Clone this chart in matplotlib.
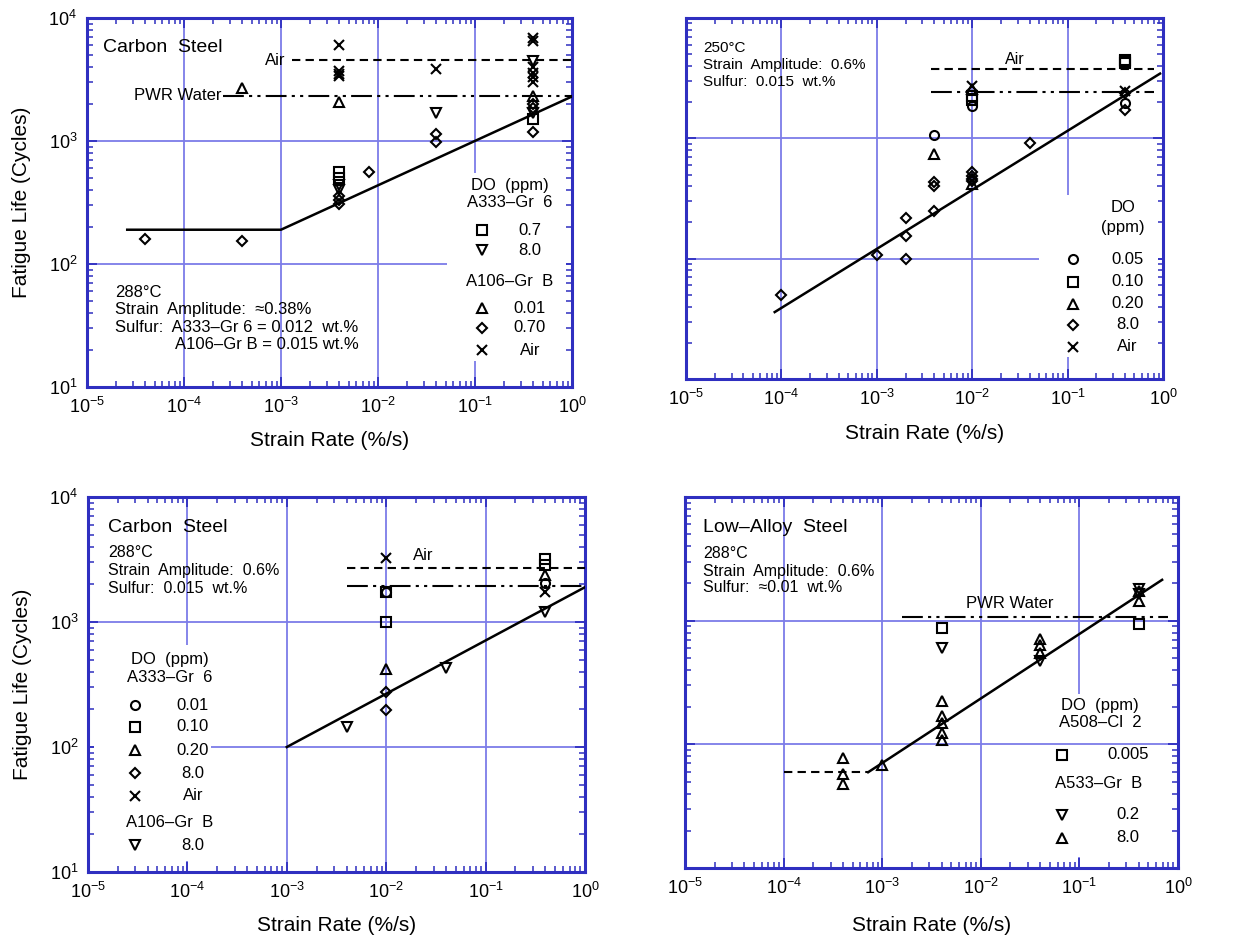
import matplotlib
matplotlib.use("Agg")
import matplotlib.pyplot as plt
from matplotlib.patches import Rectangle
from matplotlib.ticker import LogLocator, NullFormatter

plt.rcParams['font.family'] = ['Liberation Sans', 'DejaVu Sans']
plt.rcParams['mathtext.fontset'] = 'custom'
plt.rcParams['mathtext.rm'] = 'Liberation Sans'
plt.rcParams['mathtext.it'] = 'Liberation Sans'
plt.rcParams['mathtext.default'] = 'regular'

BLUE = '#2f2fc0'
GRID = '#7c7ce8'

# ---------------- panel 1: carbon steel, 288C, ~0.38% ----------------
p1_sq_x = [4e-3, 4e-3, 0.4]
p1_sq_y = [560, 500, 1500]
p1_dt_x = [4e-3, 4e-3, 4e-2, 0.4, 0.4]
p1_dt_y = [440, 400, 1690, 4500, 1700]
p1_tri_x = [4e-4, 4e-3, 0.4]
p1_tri_y = [2700, 2080, 2300]
p1_dia_x = [4e-5, 4e-4, 4e-3, 4e-3, 4e-3, 8e-3, 4e-2, 4e-2, 0.4, 0.4, 0.4]
p1_dia_y = [160, 155, 360, 330, 310, 560, 1150, 990, 2000, 1850, 1180]
p1_air_x = [4e-3, 4e-3, 4e-3, 4e-3, 4e-2, 0.4, 0.4, 0.4, 0.4, 0.4, 0.4]
p1_air_y = [6000, 3700, 3500, 3400, 3850, 6900, 6500, 4000, 3600, 3300, 3000]
p1_fit_x = [2.6e-5, 1e-3, 1.0]
p1_fit_y = [190, 190, 2300]
p1_airline_x = [1.3e-3, 1.0]
p1_airline_y = [4550, 4550]
p1_pwr_x = [2.5e-4, 1.0]
p1_pwr_y = [2320, 2320]

# ---------------- panel 2: 250C, 0.6% ----------------
p2_circ_x = [4e-3, 1e-2, 0.4]
p2_circ_y = [1060, 1860, 1970]
p2_sq_x = [1e-2, 1e-2, 0.4, 0.4, 0.4]
p2_sq_y = [2250, 2090, 4250, 4360, 4480]
p2_tri_x = [4e-3, 1e-2, 1e-2]
p2_tri_y = [735, 2570, 420]
p2_dia_x = [1e-4, 1e-3, 2e-3, 2e-3, 2e-3, 4e-3, 4e-3, 4e-3, 1e-2, 1e-2, 1e-2, 1e-2, 4e-2, 0.4, 0.4]
p2_dia_y = [50, 108, 217, 153, 100, 430, 400, 248, 530, 490, 460, 440, 908, 2400, 1720]
p2_air_x = [1e-2, 0.4]
p2_air_y = [2730, 2480]
p2_fit_x = [8.5e-5, 0.93]
p2_fit_y = [36, 3450]
p2_airline_x = [3.7e-3, 0.8]
p2_airline_y = [3800, 3800]
p2_pwr_x = [3.7e-3, 0.8]
p2_pwr_y = [2440, 2440]

# ---------------- panel 3: carbon steel, 288C, 0.6% ----------------
p3_circ_x = [1e-2, 0.4]
p3_circ_y = [1750, 2070]
p3_sq_x = [1e-2, 1e-2, 0.4, 0.4]
p3_sq_y = [1750, 1000, 3220, 2880]
p3_tri_x = [1e-2, 0.4]
p3_tri_y = [418, 2390]
p3_dia_x = [1e-2, 1e-2]
p3_dia_y = [278, 199]
p3_air_x = [1e-2, 0.4]
p3_air_y = [3280, 1750]
p3_dt_x = [4e-3, 4e-2, 0.4]
p3_dt_y = [145, 425, 1205]
p3_fit_x = [1e-3, 1.0]
p3_fit_y = [100, 1900]
p3_airline_x = [4e-3, 1.0]
p3_airline_y = [2720, 2720]
p3_pwr_x = [4e-3, 1.0]
p3_pwr_y = [1950, 1950]

# ---------------- panel 4: low-alloy steel, 288C, 0.6% ----------------
p4_sq_x = [4e-3, 0.4]
p4_sq_y = [880, 945]
p4_dt_x = [4e-3, 4e-2, 0.4, 0.4]
p4_dt_y = [605, 476, 1810, 1650]
p4_tri_x = [4e-4, 4e-4, 4e-4, 1e-3, 4e-3, 4e-3, 4e-3, 4e-3, 4e-3, 4e-2, 4e-2, 4e-2, 0.4, 0.4]
p4_tri_y = [78, 58, 48, 68, 226, 168, 148, 123, 108, 716, 630, 552, 1750, 1440]
p4_dash_x = [1e-4, 7.2e-4]
p4_dash_y = [59.5, 59.5]
p4_fit_x = [7.2e-4, 0.69]
p4_fit_y = [59.5, 2140]
p4_pwr_x = [1.6e-3, 0.8]
p4_pwr_y = [1077, 1077]

MK = dict(ls='none', mfc='none', mec='black', mew=1.5, zorder=4)
SIZES = {'o': 6.5, 's': 6.5, '^': 6.5, 'v': 6.5, 'D': 5, 'x': 6.5}
AIR_DASH = (4, 2.5)
PWR_DASH = (10, 2.5, 1.5, 2.5, 1.5, 2.5)


def pts(ax, x, y, m):
    ax.plot(x, y, marker=m, ms=SIZES[m], **MK)


def leg_marker(ax, x, y, m):
    ax.plot([x], [y], marker=m, ms=SIZES[m], transform=ax.transAxes, clip_on=False, **MK)


def setup(ax, ylab=True):
    ax.set_xscale('log')
    ax.set_yscale('log')
    ax.set_xlim(1e-5, 1)
    ax.set_ylim(10, 1e4)
    ax.xaxis.set_major_locator(LogLocator(base=10, numticks=10))
    ax.xaxis.set_minor_locator(LogLocator(base=10, subs=range(2, 10), numticks=20))
    ax.xaxis.set_minor_formatter(NullFormatter())
    ax.yaxis.set_minor_formatter(NullFormatter())
    ax.grid(True, which='major', color=GRID, lw=1.3)
    ax.set_axisbelow(True)
    ax.tick_params(which='both', direction='in', top=True, right=True, color=BLUE,
                   labelsize=13, pad=7)
    ax.tick_params(which='major', length=7, width=1.3)
    ax.tick_params(which='minor', length=4, width=1.1)
    for s in ax.spines.values():
        s.set_color(BLUE)
        s.set_linewidth(2.2)
    if not ylab:
        ax.tick_params(axis='y', labelleft=False)
    ax.set_xlabel('Strain Rate (%/s)', fontsize=15)
    if ylab:
        ax.set_ylabel('Fatigue Life (Cycles)', fontsize=15)


def whitebox(ax, x0, y0, w, h):
    ax.add_patch(Rectangle((x0, y0), w, h, transform=ax.transAxes, fc='white',
                           ec='none', zorder=1))


fig = plt.figure(figsize=(12.37, 9.41), dpi=100)
ax1 = fig.add_axes([0.0703, 0.5887, 0.3921, 0.3922])
ax2 = fig.add_axes([0.5546, 0.5972, 0.3856, 0.3837])
ax3 = fig.add_axes([0.0711, 0.0733, 0.4018, 0.3985])
ax4 = fig.add_axes([0.5538, 0.0776, 0.3985, 0.3942])

# ---- panel 1 ----
setup(ax1)
ax1.xaxis.set_label_coords(0.5, -0.12)
ax1.yaxis.set_label_coords(-0.115, 0.5)
whitebox(ax1, 0.742, 0.07, 0.245, 0.51)
ax1.plot(p1_fit_x, p1_fit_y, color='black', lw=1.8, zorder=3)
ax1.plot(p1_airline_x, p1_airline_y, color='black', lw=1.5, dashes=AIR_DASH, zorder=3)
ax1.plot(p1_pwr_x, p1_pwr_y, color='black', lw=1.5, dashes=PWR_DASH, zorder=3)
pts(ax1, p1_sq_x, p1_sq_y, 's')
pts(ax1, p1_dt_x, p1_dt_y, 'v')
pts(ax1, p1_tri_x, p1_tri_y, '^')
pts(ax1, p1_dia_x, p1_dia_y, 'D')
pts(ax1, p1_air_x, p1_air_y, 'x')
ax1.text(0.033, 0.921, 'Carbon  Steel', transform=ax1.transAxes, fontsize=14, va='center')
ax1.text(0.41, 0.886, 'Air', transform=ax1.transAxes, fontsize=12, va='center', ha='right')
ax1.text(0.278, 0.791, 'PWR Water', transform=ax1.transAxes, fontsize=12, va='center', ha='right')
for yy, s, xx in [(0.257, '288°C', 0.058), (0.209, 'Strain  Amplitude:  ≈0.38%', 0.058),
                  (0.160, 'Sulfur:  A333–Gr 6 = 0.012  wt.%', 0.058),
                  (0.114, 'A106–Gr B = 0.015 wt.%', 0.181)]:
    ax1.text(xx, yy, s, transform=ax1.transAxes, fontsize=12, va='center', zorder=5)
ax1.text(0.872, 0.547, 'DO  (ppm)', transform=ax1.transAxes, fontsize=12, ha='center', va='center', zorder=5)
ax1.text(0.872, 0.499, 'A333–Gr  6', transform=ax1.transAxes, fontsize=12, ha='center', va='center', zorder=5)
ax1.text(0.872, 0.285, 'A106–Gr  B', transform=ax1.transAxes, fontsize=12, ha='center', va='center', zorder=5)
for yy, m, s in [(0.425, 's', '0.7'), (0.371, 'v', '8.0'), (0.214, '^', '0.01'),
                 (0.160, 'D', '0.70'), (0.100, 'x', 'Air')]:
    leg_marker(ax1, 0.814, yy, m)
    ax1.text(0.913, yy, s, transform=ax1.transAxes, fontsize=12, ha='center', va='center', zorder=5)

# ---- panel 2 ----
setup(ax2, ylab=False)
ax2.xaxis.set_label_coords(0.5, -0.125)
whitebox(ax2, 0.74, 0.06, 0.25, 0.45)
ax2.plot(p2_fit_x, p2_fit_y, color='black', lw=1.8, zorder=3)
ax2.plot(p2_airline_x, p2_airline_y, color='black', lw=1.5, dashes=AIR_DASH, zorder=3)
ax2.plot(p2_pwr_x, p2_pwr_y, color='black', lw=1.5, dashes=PWR_DASH, zorder=3)
pts(ax2, p2_circ_x, p2_circ_y, 'o')
pts(ax2, p2_sq_x, p2_sq_y, 's')
pts(ax2, p2_tri_x, p2_tri_y, '^')
pts(ax2, p2_dia_x, p2_dia_y, 'D')
pts(ax2, p2_air_x, p2_air_y, 'x')
for yy, s in [(0.917, '250°C'), (0.870, 'Strain  Amplitude:  0.6%'), (0.823, 'Sulfur:  0.015  wt.%')]:
    ax2.text(0.036, yy, s, transform=ax2.transAxes, fontsize=11, va='center')
ax2.text(0.69, 0.884, 'Air', transform=ax2.transAxes, fontsize=11.5, ha='center', va='center')
ax2.text(0.916, 0.474, 'DO', transform=ax2.transAxes, fontsize=12, ha='center', va='center', zorder=5)
ax2.text(0.916, 0.421, '(ppm)', transform=ax2.transAxes, fontsize=12, ha='center', va='center', zorder=5)
for yy, m, s in [(0.332, 'o', '0.05'), (0.269, 's', '0.10'), (0.208, '^', '0.20'),
                 (0.150, 'D', '8.0'), (0.089, 'x', 'Air')]:
    leg_marker(ax2, 0.811, yy, m)
    ax2.text(0.925, yy, s, transform=ax2.transAxes, fontsize=12, ha='center', va='center', zorder=5)

# ---- panel 3 ----
setup(ax3)
ax3.xaxis.set_label_coords(0.5, -0.118)
ax3.yaxis.set_label_coords(-0.113, 0.5)
whitebox(ax3, 0.012, 0.03, 0.235, 0.575)
ax3.plot(p3_fit_x, p3_fit_y, color='black', lw=1.8, zorder=3)
ax3.plot(p3_airline_x, p3_airline_y, color='black', lw=1.5, dashes=AIR_DASH, zorder=3)
ax3.plot(p3_pwr_x, p3_pwr_y, color='black', lw=1.5, dashes=PWR_DASH, zorder=3)
pts(ax3, p3_circ_x, p3_circ_y, 'o')
pts(ax3, p3_sq_x, p3_sq_y, 's')
pts(ax3, p3_tri_x, p3_tri_y, '^')
pts(ax3, p3_dia_x, p3_dia_y, 'D')
pts(ax3, p3_air_x, p3_air_y, 'x')
pts(ax3, p3_dt_x, p3_dt_y, 'v')
ax3.text(0.04, 0.92, 'Carbon  Steel', transform=ax3.transAxes, fontsize=14, va='center')
for yy, s in [(0.853, '288°C'), (0.805, 'Strain  Amplitude:  0.6%'), (0.757, 'Sulfur:  0.015  wt.%')]:
    ax3.text(0.04, yy, s, transform=ax3.transAxes, fontsize=11.5, va='center')
ax3.text(0.654, 0.845, 'Air', transform=ax3.transAxes, fontsize=12, va='center')
ax3.text(0.165, 0.568, 'DO  (ppm)', transform=ax3.transAxes, fontsize=12, ha='center', va='center', zorder=5)
ax3.text(0.165, 0.520, 'A333–Gr  6', transform=ax3.transAxes, fontsize=12, ha='center', va='center', zorder=5)
ax3.text(0.165, 0.131, 'A106–Gr  B', transform=ax3.transAxes, fontsize=12, ha='center', va='center', zorder=5)
for yy, m, s in [(0.445, 'o', '0.01'), (0.387, 's', '0.10'), (0.325, '^', '0.20'),
                 (0.264, 'D', '8.0'), (0.203, 'x', 'Air'), (0.072, 'v', '8.0')]:
    leg_marker(ax3, 0.095, yy, m)
    ax3.text(0.211, yy, s, transform=ax3.transAxes, fontsize=12, ha='center', va='center', zorder=5)

# ---- panel 4 ----
setup(ax4, ylab=False)
ax4.xaxis.set_label_coords(0.5, -0.13)
whitebox(ax4, 0.74, 0.03, 0.25, 0.44)
ax4.yaxis.set_zorder(1.5)
ax4.plot(p4_fit_x, p4_fit_y, color='black', lw=1.8, zorder=3)
ax4.plot(p4_dash_x, p4_dash_y, color='black', lw=1.5, dashes=AIR_DASH, zorder=3)
ax4.plot(p4_pwr_x, p4_pwr_y, color='black', lw=1.5, dashes=PWR_DASH, zorder=3)
pts(ax4, p4_sq_x, p4_sq_y, 's')
pts(ax4, p4_dt_x, p4_dt_y, 'v')
pts(ax4, p4_tri_x, p4_tri_y, '^')
ax4.text(0.037, 0.919, 'Low–Alloy  Steel', transform=ax4.transAxes, fontsize=14, va='center')
for yy, s in [(0.849, '288°C'), (0.798, 'Strain  Amplitude:  0.6%'), (0.755, 'Sulfur:  ≈0.01  wt.%')]:
    ax4.text(0.037, yy, s, transform=ax4.transAxes, fontsize=11.5, va='center')
ax4.text(0.659, 0.714, 'PWR Water', transform=ax4.transAxes, fontsize=12, ha='center', va='center')
ax4.text(0.842, 0.437, 'DO  (ppm)', transform=ax4.transAxes, fontsize=12, ha='center', va='center', zorder=5)
ax4.text(0.842, 0.391, 'A508–Cl  2', transform=ax4.transAxes, fontsize=12, ha='center', va='center', zorder=5)
ax4.text(0.838, 0.229, 'A533–Gr  B', transform=ax4.transAxes, fontsize=12, ha='center', va='center', zorder=5)
for yy, m, s in [(0.305, 's', '0.005'), (0.143, 'v', '0.2'), (0.081, '^', '8.0')]:
    leg_marker(ax4, 0.765, yy, m)
    ax4.text(0.898, yy, s, transform=ax4.transAxes, fontsize=12, ha='center', va='center', zorder=5)

fig.savefig('out.png', dpi=100)
